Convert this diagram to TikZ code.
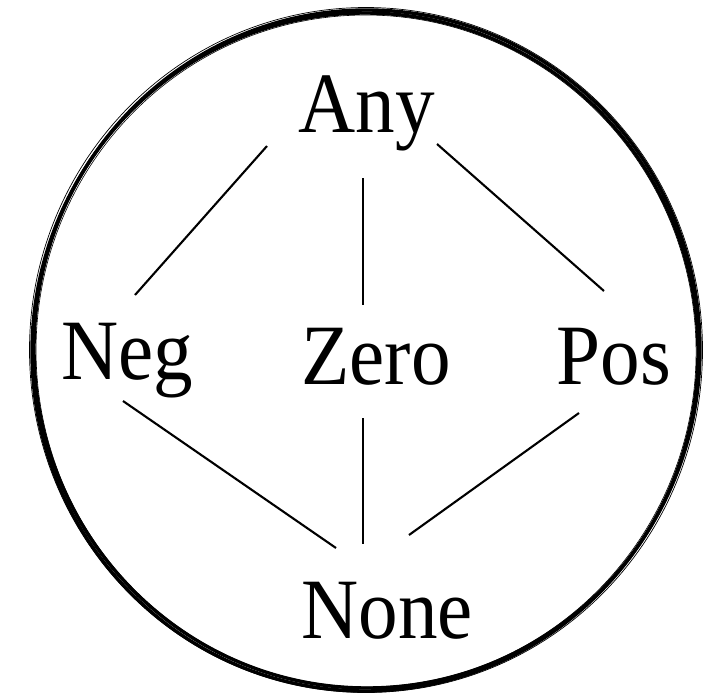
\documentclass[tikz,border=0pt]{standalone}
\usepackage{fontspec}
\setmainfont{Liberation Serif}[FakeStretch=0.92]
\usetikzlibrary{positioning}
\tikzstyle{ln} = [line width=2.1pt, line cap=butt]

\begin{document}
\begin{tikzpicture}[
  x=1pt, y=-1pt,
  lbl/.style={anchor=base, inner sep=0pt, font=\fontsize{86}{100}\selectfont},
  brush/.style={line width=#1, draw=black},
]
  \useasboundingbox (0,0) rectangle (717,694);

  % sketchy ring
  \draw[brush=3.4pt] (367,349) ellipse [x radius=333, y radius=339];
  \draw[brush=3.4pt] (365,352) ellipse [x radius=333, y radius=339];
  \draw[brush=0.7pt] (366,350) ellipse [x radius=336.5, y radius=342.5];
  \draw[brush=0.6pt, rotate around={3:(366,350)}] (366,351) ellipse [x radius=330, y radius=336];

  % lattice
  \node[lbl] (any)  at (367,132) {Any};
  \node[lbl] (neg)  at (127,379) {Neg};
  \node[lbl] (zero) at (376,384) {Zero};
  \node[lbl] (pos)  at (614,384) {Pos};
  \node[lbl] (none) at (387,638) {None};

  \draw[ln] ([shift={(-100,14)}]any.base) -- ([shift={(8,-84)}]neg.base);
  \draw[ln] ([shift={(-4,46)}]any.base)   -- ([shift={(-13,-79)}]zero.base);
  \draw[ln] ([shift={(70,12)}]any.base)   -- ([shift={(-10,-93)}]pos.base);
  \draw[ln] ([shift={(-4,22)}]neg.base)   -- ([shift={(-51,-90)}]none.base);
  \draw[ln] ([shift={(-13,34)}]zero.base) -- ([shift={(-24,-94)}]none.base);
  \draw[ln] ([shift={(-35,29)}]pos.base)  -- ([shift={(22,-103)}]none.base);
\end{tikzpicture}
\end{document}
